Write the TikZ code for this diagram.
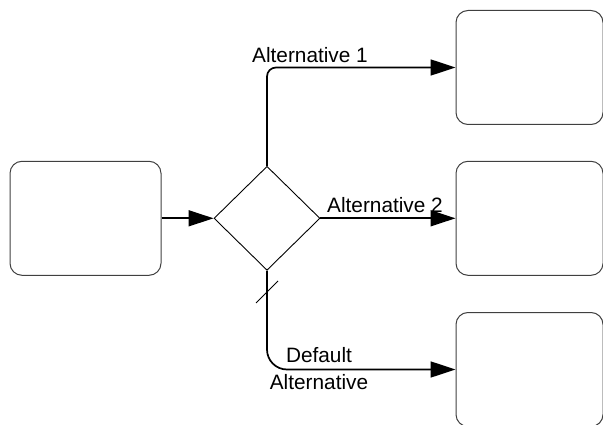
\documentclass[tikz,border=0pt]{standalone}
\usepackage{fontspec}
\setmainfont{Liberation Sans}
\usetikzlibrary{arrows.meta,shapes.geometric}
\begin{document}
\begin{tikzpicture}[x=1pt,y=-1pt,
  box/.style={draw=black!75,line width=1pt,rounded corners=12pt,minimum width=#1,minimum height=114pt,inner sep=0pt},
  gate/.style={draw,line width=0.9pt,diamond,minimum width=106pt,minimum height=104pt,inner sep=0pt},
  flow/.style={line width=1.7pt,-{Triangle[length=25pt,width=16pt]}},
  lbl/.style={font=\fontsize{20.8}{26.3}\selectfont,inner sep=0pt}]
\useasboundingbox (0,0) rectangle (603,425);
\clip (0,0) rectangle (603,425);
\node[box=151pt] (L) at (85.5,218.3) {};
\node[box=147pt] (T) at (529.5,67.5) {};
\node[box=147pt] (M) at (529.5,218.3) {};
\node[box=147pt] (B) at (529.5,369.5) {};
\node[gate] (D) at (267,218.3) {};
\draw[flow] (L.east) -- (D.west);
\draw[flow,rounded corners=9pt] (D.north) |- (T.west);
\draw[flow] (D.east) -- (M.west);
\draw[flow,rounded corners=20pt] (D.south) |- (B.west);
\coordinate (s) at (267,292);
\draw[line width=1pt] (s) +(-11,11) -- +(11,-11);
\node[lbl,anchor=base] (a1) at (310,62.5) {Alternative 1};
\node[lbl,anchor=base] (a2) at (385,212) {Alternative 2};
\node[lbl,align=center,anchor=base] (a3) at (319,389) {Default\\Alternative};
\end{tikzpicture}
\end{document}
